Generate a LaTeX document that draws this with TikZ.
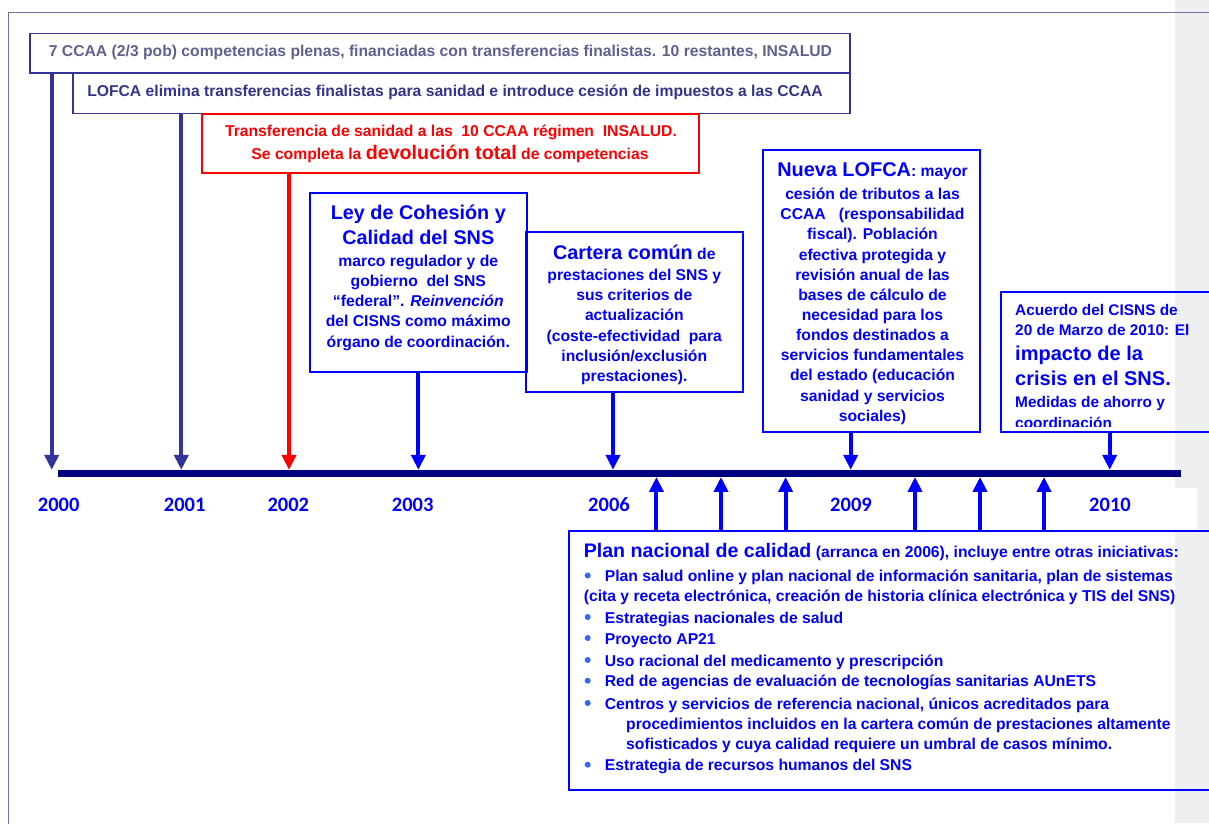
\documentclass[tikz,border=0pt]{standalone}
\usepackage{fontspec}
\usetikzlibrary{arrows.meta}
\newfontfamily\nar{Liberation Sans}
\newfontfamily\yrfont{Carlito}
\newcommand\fsz[1]{\fontsize{#1}{#1}\selectfont}
\definecolor{framec}{RGB}{112,112,160}
\definecolor{navyb}{RGB}{51,51,153}
\definecolor{txtone}{RGB}{96,96,144}
\definecolor{txttwo}{RGB}{51,51,140}
\definecolor{barc}{RGB}{0,0,128}
\definecolor{bluec}{RGB}{0,0,255}
\definecolor{bulc}{RGB}{51,102,255}
\definecolor{stripc}{RGB}{238,239,241}
\definecolor{redc}{RGB}{255,0,0}
\begin{document}
\begin{tikzpicture}[x=1pt,y=-1pt,
  rbox/.style={draw, rectangle, inner sep=0pt, outer sep=0pt},
  navyedge/.style={rbox, draw=navyb, line width=1.6pt},
  rededge/.style={rbox, draw=redc, line width=2pt},
  blueedge/.style={rbox, draw=bluec, line width=2pt},
  txt/.style={inner sep=0pt, anchor=base, font=\nar\bfseries\fsz{15.7}},
  bluetxt/.style={txt, text=bluec},
  lefttxt/.style={bluetxt, anchor=base west},
  darr/.style={line width=4pt, -{Triangle[length=15pt,width=14pt]}},
  yearlbl/.style={inner sep=0pt, anchor=base, text=bluec, font=\yrfont\bfseries\fsz{20.5}},
  bdot/.style={circle, fill=bulc, inner sep=0pt, minimum size=6pt},
  bigl/.style={font=\nar\bfseries\fsz{19.8}},
  acutxt/.style={lefttxt, font=\nar\bfseries\fsz{15.4}},
  acubig/.style={lefttxt, font=\nar\bfseries\fsz{20}}
]
\useasboundingbox (0,0) rectangle (1209,823);
\clip (0,0) rectangle (1209,823);
% background strip and frame
\fill[stripc] (1175,0) rectangle (1209,823);
\draw[framec, line width=1.5pt] (8.5,830) -- (8.5,12.7) -- (1215,12.7);
\fill[white] (1100,488) rectangle (1197,530);

% boxes
\node[navyedge, minimum width=820pt, minimum height=39.4pt] (box1) at (440,53) {};
\node[navyedge, minimum width=777pt, minimum height=40.6pt] (box2) at (461.5,93) {};
\node[rededge, minimum width=497.3pt, minimum height=59.4pt] (redb) at (450.35,143.3) {};
\node[blueedge, minimum width=216.7pt, minimum height=179.3pt] (ley) at (418.35,282.35) {};
\node[blueedge, minimum width=216.7pt, minimum height=159.7pt] (cart) at (634.35,311.85) {};
\node[blueedge, minimum width=217pt, minimum height=281.5pt] (nueva) at (871.5,291.2) {};
\node[blueedge, minimum width=214.3pt, minimum height=140.3pt] (acu) at (1107.85,361.85) {};
\node[blueedge, minimum width=646pt, minimum height=259pt] (plan) at (892,660.5) {};

% texts top boxes
\node[txt, text=txtone] (t1) at (440.5,56.7) {7 CCAA (2/3 pob) competencias plenas, financiadas con transferencias finalistas. 10 restantes, INSALUD};
\node[txt, text=txttwo] (t2) at (455,96) {LOFCA elimina transferencias finalistas para sanidad e introduce cesión de impuestos a las CCAA};
\node[txt, text=redc] (r1) at (451,136) {Transferencia de sanidad a las\ \ 10 CCAA régimen\ \ INSALUD.};
\node[txt, text=redc] (r2) at (450,159.3) {Se completa la {\fsz{19.7}devolución total} de competencias};

% Ley box
\node[bluetxt, bigl] (ly1) at (418.3,219.3) {Ley de Cohesión y};
\node[bluetxt, bigl] (ly2) at (418.3,244.3) {Calidad del SNS};
\node[bluetxt] (ly3) at (418.3,266) {marco regulador y de};
\node[bluetxt] (ly4) at (418.3,286.7) {gobierno\ \ del SNS};
\node[bluetxt] (ly5) at (418.3,306.7) {“federal”. \textit{Reinvención}};
\node[bluetxt] (ly6) at (418.3,326.7) {del CISNS como máximo};
\node[bluetxt] (ly7) at (418.3,347.3) {órgano de coordinación.};

% Cartera box
\node[bluetxt] (ca1) at (634.3,259) {{\fsz{19.8}Cartera común} de};
\node[bluetxt] (ca2) at (634.3,280.7) {prestaciones del SNS y};
\node[bluetxt] (ca3) at (634.3,300.7) {sus criterios de};
\node[bluetxt] (ca4) at (634.3,320.7) {actualización};
\node[bluetxt] (ca5) at (634.3,341.3) {(coste-efectividad\ \ para};
\node[bluetxt] (ca6) at (634.3,361.7) {inclusión/exclusión};
\node[bluetxt] (ca7) at (634.3,381.7) {prestaciones).};

% Nueva LOFCA box
\node[bluetxt] (nu1) at (872.5,176.7) {{\fsz{19.9}Nueva LOFCA}: mayor};
\node[bluetxt] (nu2) at (872.5,199.3) {cesión de tributos a las};
\node[bluetxt] (nu3) at (872.5,219.3) {CCAA\ \ \ (responsabilidad};
\node[bluetxt] (nu4) at (872.5,239.3) {fiscal). Población};
\node[bluetxt] (nu5) at (872.5,260) {efectiva protegida y};
\node[bluetxt] (nu6) at (872.5,280) {revisión anual de las};
\node[bluetxt] (nu7) at (872.5,300) {bases de cálculo de};
\node[bluetxt] (nu8) at (872.5,320.7) {necesidad para los};
\node[bluetxt] (nu9) at (872.5,340.7) {fondos destinados a};
\node[bluetxt] (nu10) at (872.5,360.7) {servicios fundamentales};
\node[bluetxt] (nu11) at (872.5,380.7) {del estado (educación};
\node[bluetxt] (nu12) at (872.5,401.7) {sanidad y servicios};
\node[bluetxt] (nu13) at (872.5,421.7) {sociales)};

% Acuerdo box
\node[acutxt] (ac1) at (1015,315) {Acuerdo del CISNS de};
\node[acutxt] (ac2) at (1015,335) {20 de Marzo de 2010: El};
\node[acubig] (ac3) at (1015,360) {impacto de la};
\node[acubig] (ac4) at (1015,385) {crisis en el SNS.};
\node[acutxt] (ac5) at (1015,407.3) {Medidas de ahorro y};
\begin{scope}
\clip (1000,400) rectangle (1209,426.5);
\node[acutxt] (ac6) at (1015,428.5) {coordinación};
\end{scope}

% Plan box
\node[lefttxt] (p0) at (583.6,557.7) {{\fsz{19.6}Plan nacional de calidad} (arranca en 2006), incluye entre otras iniciativas:};
\node[lefttxt] (p1) at (604.7,581.7) {Plan salud online y plan nacional de información sanitaria, plan de sistemas};
\node[lefttxt] (p1b) at (583.6,601) {(cita y receta electrónica, creación de historia clínica electrónica y TIS del SNS)};
\node[lefttxt] (p2) at (604.7,623.3) {Estrategias nacionales de salud};
\node[lefttxt] (p3) at (604.7,644.3) {Proyecto AP21};
\node[lefttxt] (p4) at (604.7,666) {Uso racional del medicamento y prescripción};
\node[lefttxt] (p5) at (604.7,686.7) {Red de agencias de evaluación de tecnologías sanitarias AUnETS};
\node[lefttxt] (p6) at (604.7,709) {Centros y servicios de referencia nacional, únicos acreditados para};
\node[lefttxt] (p6b) at (626,729) {procedimientos incluidos en la cartera común de prestaciones altamente};
\node[lefttxt] (p6c) at (626,749) {sofisticados y cuya calidad requiere un umbral de casos mínimo.};
\node[lefttxt] (p7) at (604.7,770.7) {Estrategia de recursos humanos del SNS};
\foreach \yy/\nm in {575.5/d1,617/d2,638/d3,660/d4,680.7/d5,703/d6,764.7/d7}
  \node[bdot] (\nm) at (587.7,\yy) {};

% timeline bar
\node[fill=barc, inner sep=0pt, minimum width=1123pt, minimum height=6.7pt] (bar) at (619.5,473.4) {};

% years
\node[yearlbl] (y2000) at (58.7,511.7) {2000};
\node[yearlbl] (y2001) at (184.7,511.7) {2001};
\node[yearlbl] (y2002) at (288.3,511.7) {2002};
\node[yearlbl] (y2003) at (412.7,511.7) {2003};
\node[yearlbl] (y2006) at (609,511.7) {2006};
\node[yearlbl] (y2009) at (851,511.7) {2009};
\node[yearlbl] (y2010) at (1110,511.7) {2010};

% down arrows
\coordinate (s2000) at ([xshift=21.7pt]box1.south west);
\coordinate (s2001) at ([xshift=108.3pt]box2.south west);
\coordinate (s2002) at ([xshift=87.3pt]redb.south west);
\coordinate (s2003) at (ley.south);
\coordinate (s2006) at ([xshift=87pt]cart.south west);
\coordinate (s2009) at ([xshift=87.7pt]nueva.south west);
\coordinate (s2010) at ([xshift=109pt]acu.south west);
\draw[darr, navyb] (s2000) -- (s2000 |- bar.north);
\draw[darr, navyb] (s2001) -- (s2001 |- bar.north);
\draw[darr, redc] (s2002) -- (s2002 |- bar.north);
\draw[darr, bluec] (s2003) -- (s2003 |- bar.north);
\draw[darr, bluec] (s2006) -- (s2006 |- bar.north);
\draw[darr, bluec] (s2009) -- (s2009 |- bar.north);
\draw[darr, bluec] (s2010) -- (s2010 |- bar.north);

% up arrows
\foreach \dx/\nm in {87.4/u1,152/u2,216.6/u3,346/u4,411/u5,475/u6}{
  \coordinate (\nm) at ([xshift=\dx pt]plan.north west);
  \draw[darr, bluec] (\nm) -- (\nm |- bar.south);
}
\end{tikzpicture}
\end{document}
